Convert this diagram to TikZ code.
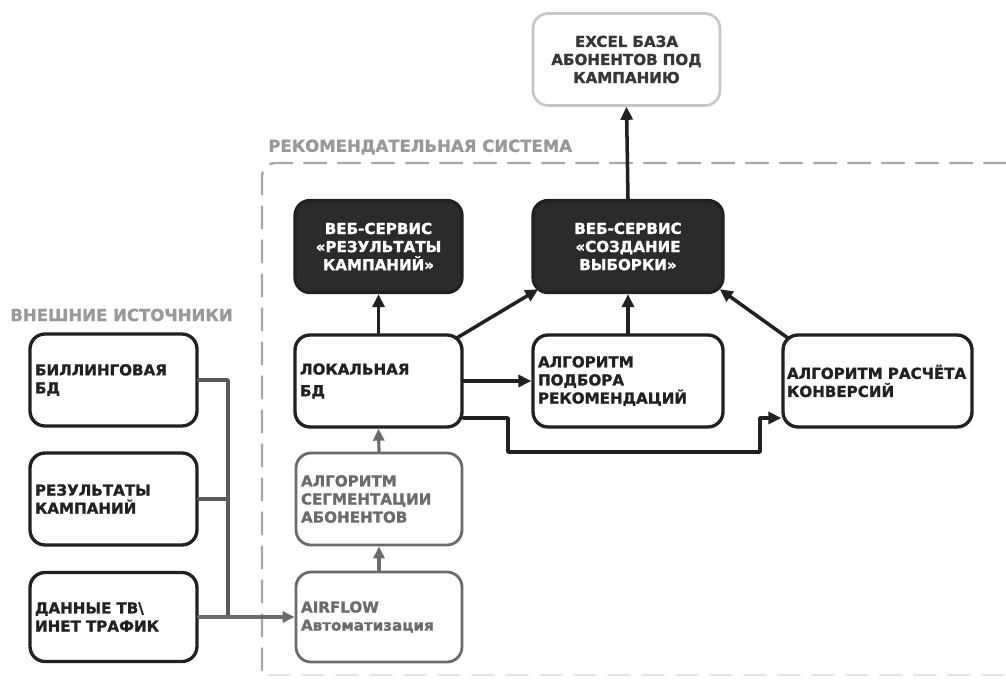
\documentclass[tikz,border=0pt]{standalone}
\usepackage{fontspec}
\setmainfont{DejaVu Sans}[BoldFeatures={FakeBold=1.3}]
\usetikzlibrary{arrows.meta}
\definecolor{dkline}{rgb}{0.13,0.13,0.13}
\definecolor{dkfill}{rgb}{0.17,0.17,0.17}
\definecolor{grline}{rgb}{0.42,0.42,0.42}
\definecolor{grtext}{rgb}{0.6,0.6,0.6}
\definecolor{ltline}{rgb}{0.78,0.78,0.78}
\definecolor{dashcol}{rgb}{0.66,0.66,0.66}

\tikzset{
  boxfont/.style={font=\fontsize{8.6}{10.3}\selectfont\bfseries},
  box/.style={draw=dkline,line width=1.9pt,rounded corners=0.3cm,inner xsep=0.1cm,
    boxfont,text=dkline,align=left,text width=#1,minimum height=1.84cm},
  svcbox/.style={box=#1,fill=dkfill,text=white,align=center},
  grbox/.style={box=#1,draw=grline,line width=1.6pt,text=grline},
  xlsbox/.style={box=#1,draw=ltline,line width=1.5pt,text=dkline!90,align=center},
  grlabel/.style={font=\fontsize{9.4}{11}\selectfont\bfseries,text=grtext,anchor=west,inner sep=0pt},
  arr/.style={draw=dkline,line width=2pt,-{Triangle[length=0.26cm,width=0.24cm]}},
  grarr/.style={draw=grline,line width=1.8pt,-{Triangle[length=0.24cm,width=0.22cm]}},
  feed/.style={draw=dkline!75,line width=2pt}
}

\begin{document}
\begin{tikzpicture}[x=0.02cm,y=-0.02cm,line cap=round,line join=round]
  \useasboundingbox (0,0) rectangle (1006,682);
  % frame of the system
  \draw[dashcol,line width=1.4pt,dash pattern=on 0.44cm off 0.24cm,rounded corners=0.25cm]
    (1006,163) -- (262,163) -- (262,675);
  \draw[ltline!50,line width=1pt,dash pattern=on 0.44cm off 0.24cm] (268,675) -- (1006,675);
  \node[grlabel] (syslbl) at (268,147) {РЕКОМЕНДАТЕЛЬНАЯ СИСТЕМА};
  \node[grlabel] (extlbl) at (10,315) {ВНЕШНИЕ ИСТОЧНИКИ};

  % outer sources
  \node[box=3.14cm] (billing) at (113.5,380) {БИЛЛИНГОВАЯ\\БД};
  \node[box=3.14cm] (campres) at (113.5,499) {РЕЗУЛЬТАТЫ\\КАМПАНИЙ};
  \node[box=3.14cm,minimum height=1.78cm] (tvdata) at (113.5,617) {ДАННЫЕ ТВ\textbackslash\\ИНЕТ ТРАФИК};

  % system
  \node[svcbox=3.14cm] (websvcres) at (378.5,246.5) {ВЕБ-СЕРВИС\\«РЕЗУЛЬТАТЫ\\КАМПАНИЙ»};
  \node[svcbox=3.6cm] (websvcsel) at (628,246.5) {ВЕБ-СЕРВИС\\«СОЗДАНИЕ\\ВЫБОРКИ»};
  \node[box=3.14cm] (localdb) at (378.5,381) {ЛОКАЛЬНАЯ\\[2pt]БД};
  \node[box=3.6cm] (recalg) at (628,381) {АЛГОРИТМ\\ПОДБОРА\\РЕКОМЕНДАЦИЙ};
  \node[box=3.62cm,inner xsep=0.08cm] (convalg) at (877.5,381) {АЛГОРИТМ~РАСЧЁТА\\КОНВЕРСИЙ};
  \node[grbox=3.12cm] (segalg) at (379,499) {АЛГОРИТМ\\СЕГМЕНТАЦИИ\\АБОНЕНТОВ};
  \node[grbox=3.12cm,minimum height=1.8cm] (airflow) at (379,617) {AIRFLOW\\Автоматизация};
  \node[xlsbox=3.54cm] (excel) at (626.5,59.5) {EXCEL БАЗА\\АБОНЕНТОВ ПОД\\КАМПАНИЮ};

  % connectors
  \coordinate (jn) at (228,617);
  \coordinate (r1) at (508,452);
  \coordinate (r2) at (760,452);
  \draw[feed] (billing.east) -| (jn);
  \draw[feed] (campres.east) -- (campres.east -| jn);
  \draw[grarr] (tvdata.east) -- (airflow.west);
  \draw[grarr] (airflow.north) -- (segalg.south);
  \draw[grarr] (segalg.north) -- (localdb.south);
  \draw[arr] (localdb.north) -- (websvcres.south);
  \draw[arr] ([xshift=-0.15cm,yshift=-0.1cm]localdb.north east) -- ([xshift=0.14cm,yshift=0.1cm]websvcsel.south west);
  \draw[arr] (localdb.east) -- (recalg.west);
  \draw[arr] (recalg.north) -- (websvcsel.south);
  \draw[arr] ([xshift=0.14cm,yshift=-0.1cm]convalg.north west) -- ([xshift=-0.1cm,yshift=0.1cm]websvcsel.south east);
  \draw[arr] ([yshift=-0.74cm]localdb.east) -| (r1) -- (r2) |- ([yshift=-0.74cm]convalg.west);
  \draw[arr] (websvcsel.north) -- (excel.south);
\end{tikzpicture}
\end{document}
